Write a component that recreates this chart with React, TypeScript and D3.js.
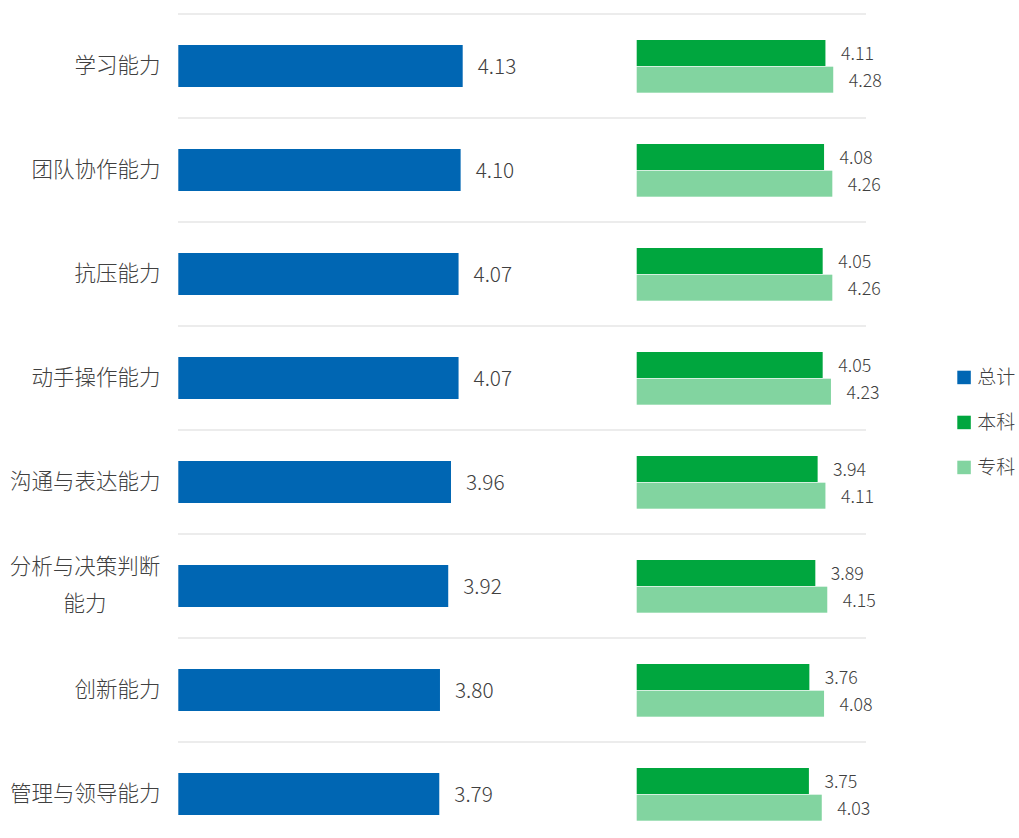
import React from "react";
import * as d3 from "d3";

const categories = ["学习能力", "团队协作能力", "抗压能力", "动手操作能力", "沟通与表达能力", "分析与决策判断能力", "创新能力", "管理与领导能力"];
const labelLines: string[][] = [["学习能力"], ["团队协作能力"], ["抗压能力"], ["动手操作能力"], ["沟通与表达能力"], ["分析与决策判断", "能力"], ["创新能力"], ["管理与领导能力"]];
const totalValues = [4.13, 4.10, 4.07, 4.07, 3.96, 3.92, 3.80, 3.79];
const benkeValues = [4.11, 4.08, 4.05, 4.05, 3.94, 3.89, 3.76, 3.75];
const zhuankeValues = [4.28, 4.26, 4.26, 4.23, 4.11, 4.15, 4.08, 4.03];
const legendLabels = ["总计", "本科", "专科"];
const colors = ["#0066B3", "#00A63E", "#82D4A0"];

const FONT = "'Noto Sans CJK SC', 'Noto Sans', sans-serif";
const TEXT = "#404040";

export default function App() {
  const W = 1019, H = 838;
  const y = d3.scaleBand<string>().domain(categories).range([14, 14 + 8 * 104]).paddingInner(0);
  const xL = d3.scaleLinear().domain([0, 5]).range([178.3, 522.6]);
  const xR = d3.scaleLinear().domain([0, 5]).range([636.7, 866.3]);
  const sub = d3.scaleBand<string>().domain(["本科", "专科"]).range([-26, 26.7]).paddingInner(0.025);
  const bw = y.bandwidth();
  const gridLines = d3.range(categories.length).map((i) => 14 + i * bw);

  return (
    <svg width={W} height={H} style={{ position: "absolute", left: 0, top: 0, fontFamily: FONT, fontWeight: 300 }}>
      <rect width={W} height={H} fill="#fff" />
      {gridLines.map((gy, i) => (
        <line key={i} x1={178} x2={866} y1={gy} y2={gy} stroke="#D9D9D9" strokeWidth={1.2} />
      ))}
      {categories.map((c, i) => {
        const cy = (y(c) as number) + bw / 2;
        const lines = labelLines[i];
        const spacing = 36.7;
        const bY = cy + (sub("本科") as number) + sub.bandwidth() / 2;
        const zY = cy + (sub("专科") as number) + sub.bandwidth() / 2;
        return (
          <g key={c}>
            {lines.map((ln, j) => (
              <text key={j} x={lines.length > 1 ? 85 : 160.5}
                y={cy + 6.5 + (j - (lines.length - 1) / 2) * spacing}
                textAnchor={lines.length > 1 ? "middle" : "end"} fontSize={21.5} fill={TEXT}>{ln}</text>
            ))}
            <rect x={xL(0)} y={cy - 21} width={xL(totalValues[i]) - xL(0)} height={42} fill={colors[0]} />
            <text x={xL(totalValues[i]) + 15} y={cy + 7.7} fontSize={20.8} fill={TEXT}>{totalValues[i].toFixed(2)}</text>
            <rect x={xR(0)} y={cy + (sub("本科") as number)} width={xR(benkeValues[i]) - xR(0)} height={sub.bandwidth()} fill={colors[1]} />
            <text x={xR(benkeValues[i]) + 15.5} y={bY + 7} fontSize={17.8} fill={TEXT}>{benkeValues[i].toFixed(2)}</text>
            <rect x={xR(0)} y={cy + (sub("专科") as number)} width={xR(zhuankeValues[i]) - xR(0)} height={sub.bandwidth()} fill={colors[2]} />
            <text x={xR(zhuankeValues[i]) + 15.5} y={zY + 7} fontSize={17.8} fill={TEXT}>{zhuankeValues[i].toFixed(2)}</text>
          </g>
        );
      })}
      {legendLabels.map((l, i) => (
        <g key={l} transform={`translate(957.3, ${370.7 + i * 45})`}>
          <rect width={13.5} height={13.5} fill={colors[i]} />
          <text x={20} y={13.3} fontSize={19} fill={TEXT}>{l}</text>
        </g>
      ))}
    </svg>
  );
}
